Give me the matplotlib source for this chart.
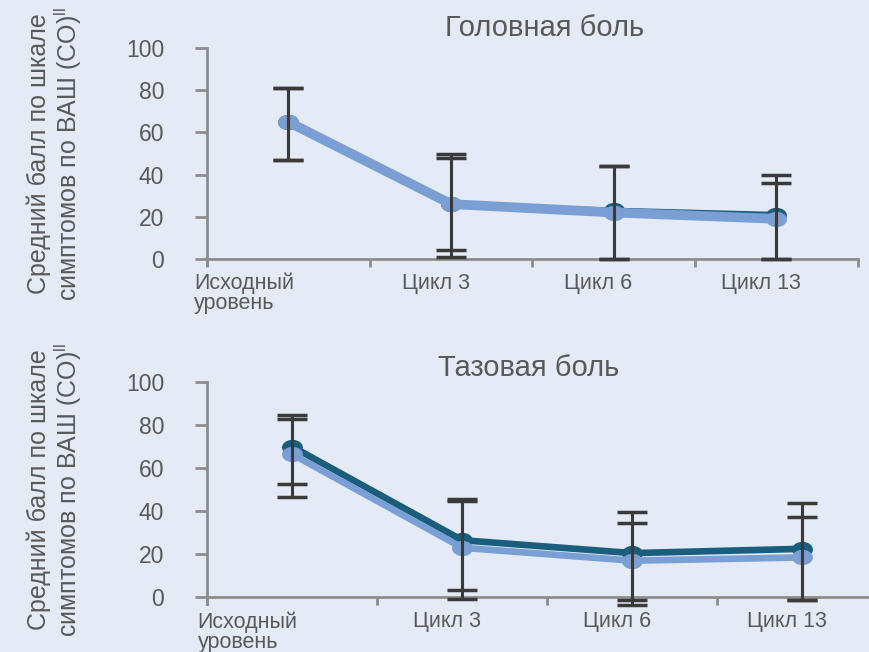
import matplotlib
matplotlib.use("Agg")
import matplotlib.pyplot as plt
import matplotlib.transforms as mtransforms
from matplotlib.path import Path
import numpy as np

plt.rcParams['font.family'] = ['Liberation Sans', 'DejaVu Sans']

categories = ["Исходный\nуровень", "Цикл 3", "Цикл 6", "Цикл 13"]
titles = ["Головная боль", "Тазовая боль"]
ylabel = "Средний балл по шкале\nсимптомов по ВАШ (СО)$^{\\mathregular{ll}}$"
yticks = [0, 20, 40, 60, 80, 100]

# Headache
head_dark = [65, 26, 23, 21]
head_dark_hi = [81, 50, 44, 40]
head_dark_lo = [47, 4, 0, 0]
head_light = [65, 26, 22, 19]
head_light_hi = [81, 48, 44, 36]
head_light_lo = [47, 1, 0, 0]

# Pelvic pain
pelv_dark = [70, 26.5, 20.5, 22.5]
pelv_dark_hi = [84.5, 45.5, 39.5, 44]
pelv_dark_lo = [52.5, 3.5, -3.5, -1.5]
pelv_light = [66.5, 23, 17, 18.5]
pelv_light_hi = [83, 44.5, 34.5, 37.5]
pelv_light_lo = [46.5, -1, -1.5, -1.5]

BG = "#e4eaf6"
DARK = "#1a5e7e"
LIGHT = "#7a9fd5"
TXT = "#595959"
AX = "#8c8c8c"
ERR = "#3a3a3a"

theta = np.linspace(0, 2 * np.pi, 40)
ell = Path(np.column_stack([1.4 * np.cos(theta), np.sin(theta)]))

fig = plt.figure(figsize=(8.7, 6.52), dpi=100, facecolor=BG)

axes_specs = [
    ([0.238, 0.603, 0.748, 0.323], head_dark, head_dark_hi, head_dark_lo,
     head_light, head_light_hi, head_light_lo, 4.0, 7.0, 0.519, 9),
    ([0.238, 0.084, 0.782, 0.330], pelv_dark, pelv_dark_hi, pelv_dark_lo,
     pelv_light, pelv_light_hi, pelv_light_lo, 4.8, 4.8, 0.472, 4),
]

for i, (rect, d, dhi, dlo, l, lhi, llo, lwd, lwl, tx, tpad) in enumerate(axes_specs):
    ax = fig.add_axes(rect)
    ax.set_facecolor(BG)
    x = np.arange(len(categories))
    ax.plot(x, d, color=DARK, lw=lwd, marker=ell, ms=14, mec=DARK, mfc=DARK,
            solid_joinstyle='round', zorder=2, clip_on=False)
    ax.plot(x, l, color=LIGHT, lw=lwl, marker=ell, ms=14, mec=LIGHT, mfc=LIGHT,
            solid_joinstyle='round', zorder=3, clip_on=False)
    for vals, hi, lo in [(d, dhi, dlo), (l, lhi, llo)]:
        vals = np.array(vals); hi = np.array(hi); lo = np.array(lo)
        eb = ax.errorbar(x, vals, yerr=[vals - lo, hi - vals], fmt='none',
                         ecolor=ERR, elinewidth=2.2, capsize=11, capthick=2.5,
                         zorder=4)
        for art in eb.lines[1]:
            art.set_clip_on(False)
        for art in eb.lines[2]:
            art.set_clip_on(False)
    ax.set_xlim(-0.5, 3.5)
    ax.set_ylim(0, 100)
    ax.set_yticks(yticks)
    ax.set_xticks(np.arange(-0.5, 4.0, 1.0))
    ax.set_xticklabels([])
    ax.set_xticks(x, minor=True)
    ax.set_xticklabels(categories, minor=True)
    ax.tick_params(axis='x', which='major', length=6, width=2, color=AX, direction='out')
    ax.tick_params(axis='x', which='minor', length=0, pad=10, labelsize=15.5, labelcolor=TXT)
    ax.tick_params(axis='y', length=9, width=2, color=AX, pad=22, labelsize=16.5, labelcolor=TXT)
    for s in ['top', 'right']:
        ax.spines[s].set_visible(False)
    for s in ['left', 'bottom']:
        ax.spines[s].set_color(AX)
        ax.spines[s].set_linewidth(2)
    ax.spines['left'].set_bounds(-3, 100)
    for j, lab in enumerate(ax.get_xticklabels(minor=True)):
        if j == 0:
            lab.set_ha('right')
            lab.set_multialignment('left')
            lab.set_linespacing(0.95)
            lab.set_transform(lab.get_transform() + mtransforms.ScaledTranslation(4 / 72, 0, fig.dpi_scale_trans))
        else:
            lab.set_transform(lab.get_transform() + mtransforms.ScaledTranslation(-11 / 72, 0, fig.dpi_scale_trans))
    ax.set_title(titles[i], fontsize=21, color=TXT, pad=tpad, x=tx)
    ax.set_ylabel(ylabel, fontsize=18, color=TXT, labelpad=30, linespacing=1.05)

fig.savefig("out.png", dpi=100, facecolor=BG)
